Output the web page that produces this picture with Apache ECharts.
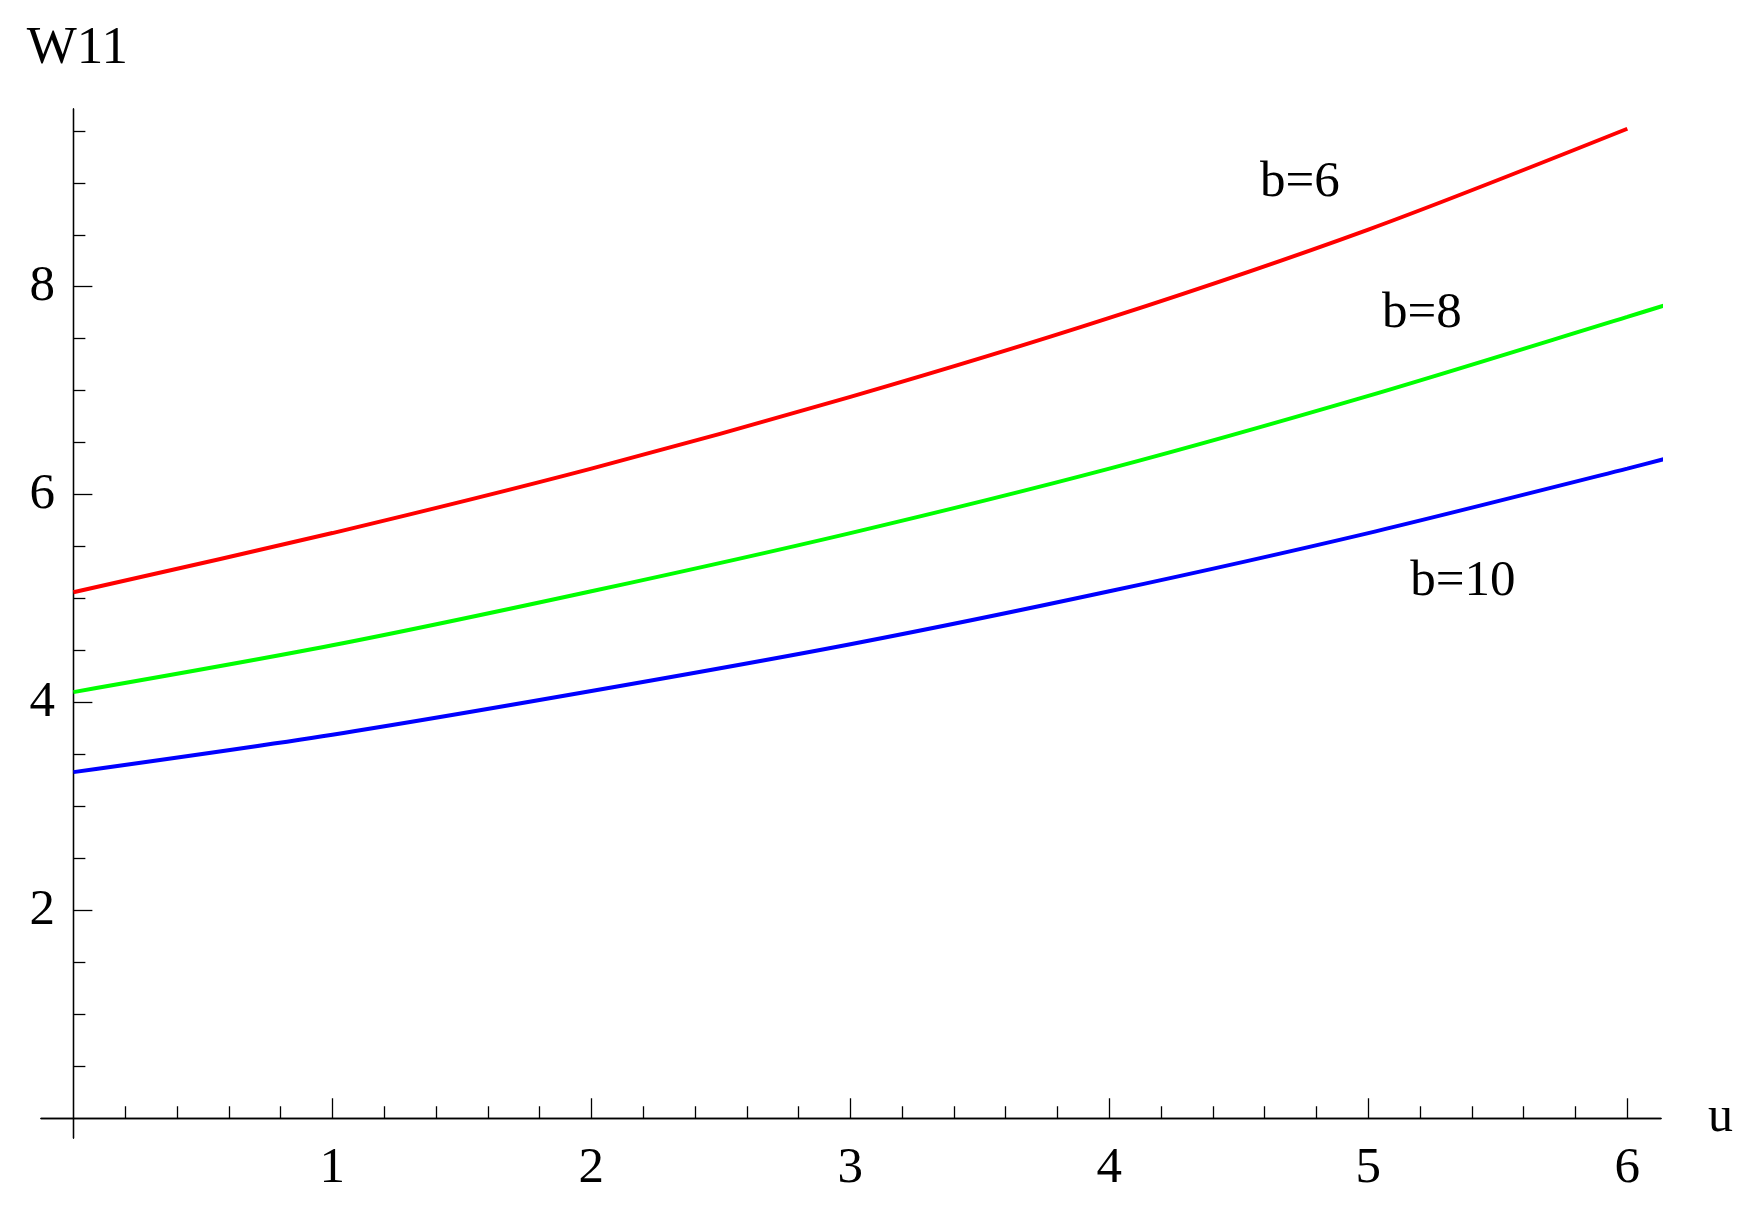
<!DOCTYPE html>
<html>
<head>
<meta charset="utf-8">
<script src="https://cdn.jsdelivr.net/npm/echarts@6/dist/echarts.min.js"></script>
<style>
html,body{margin:0;padding:0;background:#fff;}
#chart{width:1746px;height:1208px;}
</style>
</head>
<body>
<div id="chart"></div>
<script>
// ---- data ----
var uRed   = [0, 1, 2, 3, 4, 5, 6];
var wRed   = [5.06, 5.63, 6.25, 6.94, 7.70, 8.55, 9.52];
var uGreen = [0, 1, 2, 3, 4, 5, 6, 6.155];
var wGreen = [4.10, 4.55, 5.07, 5.63, 6.25, 6.95, 7.71, 7.83];
var uBlue  = [0, 1, 2, 3, 4, 5, 6, 6.155];
var wBlue  = [3.33, 3.69, 4.11, 4.56, 5.07, 5.63, 6.25, 6.35];
var seriesNames = ['b=6', 'b=8', 'b=10'];

// tick labels / tick positions
var xMajorTicks = [1, 2, 3, 4, 5, 6];
var xMinorTicks = [0.2, 0.4, 0.6, 0.8, 1.2, 1.4, 1.6, 1.8, 2.2, 2.4, 2.6, 2.8,
                   3.2, 3.4, 3.6, 3.8, 4.2, 4.4, 4.6, 4.8, 5.2, 5.4, 5.6, 5.8];
var yMajorTicks = [2, 4, 6, 8];
var yMinorTicks = [0.5, 1, 1.5, 2.5, 3, 3.5, 4.5, 5, 5.5, 6.5, 7, 7.5, 8.5, 9, 9.5];

function pairs(xs, ys) { return xs.map(function (x, i) { return [x, ys[i]]; }); }

var FONT = 'Liberation Serif';
var X_MIN = -0.125, X_MAX = 6.13, Y_MIN = -0.19, Y_MAX = 9.71;

var chart = echarts.init(document.getElementById('chart'), null, {renderer: 'canvas'});

function lineSeries(name, xs, ys, color, labelCoord) {
  return {
    name: name,
    type: 'line',
    xAxisIndex: 0,
    yAxisIndex: 0,
    data: pairs(xs, ys),
    smooth: 0.3,
    showSymbol: false,
    symbol: 'none',
    clip: false,
    lineStyle: {color: color, width: 4},
    markPoint: {
      symbol: 'circle',
      symbolSize: 0,
      silent: true,
      label: {
        show: true,
        position: 'inside',
        formatter: name,
        color: '#000',
        fontFamily: FONT,
        fontSize: 51
      },
      data: [{coord: labelCoord}]
    }
  };
}

var axisLineStyle = {color: '#000', width: 1.3};

var option = {
  backgroundColor: '#fff',
  animation: false,
  grid: {left: 41, right: 85, top: 109, bottom: 70, containLabel: false, outerBoundsMode: 'none'},
  xAxis: [
    {
      type: 'value', min: X_MIN, max: X_MAX, position: 'bottom',
      name: 'u', nameLocation: 'end', nameGap: 47,
      nameTextStyle: {fontFamily: FONT, fontSize: 50, color: '#000', verticalAlign: 'middle', padding: [11, 0, 0, 0]},
      axisLine: {show: true, onZero: true, onZeroAxisIndex: 0, lineStyle: axisLineStyle},
      axisTick: {show: true, inside: true, length: 20, customValues: xMajorTicks, lineStyle: axisLineStyle},
      axisLabel: {show: true, customValues: xMajorTicks, margin: 5, fontFamily: FONT, fontSize: 51, color: '#000'},
      splitLine: {show: false}
    },
    {
      type: 'value', min: X_MIN, max: X_MAX, position: 'bottom',
      axisLine: {show: true, onZero: true, onZeroAxisIndex: 0, lineStyle: axisLineStyle},
      axisTick: {show: true, inside: true, length: 12, customValues: xMinorTicks, lineStyle: axisLineStyle},
      axisLabel: {show: false},
      splitLine: {show: false}
    }
  ],
  yAxis: [
    {
      type: 'value', min: Y_MIN, max: Y_MAX, position: 'left',
      name: 'W11', nameLocation: 'end', nameGap: 33,
      nameTextStyle: {fontFamily: FONT, fontSize: 53, color: '#000', padding: [0, 0, 0, 8]},
      axisLine: {show: true, onZero: true, onZeroAxisIndex: 0, lineStyle: axisLineStyle},
      axisTick: {show: true, inside: true, length: 19, customValues: yMajorTicks, lineStyle: axisLineStyle},
      axisLabel: {show: true, customValues: yMajorTicks, margin: -14, fontFamily: FONT, fontSize: 51, color: '#000'},
      splitLine: {show: false}
    },
    {
      type: 'value', min: Y_MIN, max: Y_MAX, position: 'left',
      axisLine: {show: true, onZero: true, onZeroAxisIndex: 0, lineStyle: axisLineStyle},
      axisTick: {show: true, inside: true, length: 12, customValues: yMinorTicks, lineStyle: axisLineStyle},
      axisLabel: {show: false},
      splitLine: {show: false}
    }
  ],
  series: [
    lineSeries(seriesNames[0], uRed, wRed, '#ff0000', [4.736, 9.0]),
    lineSeries(seriesNames[1], uGreen, wGreen, '#00ff00', [5.207, 7.74]),
    lineSeries(seriesNames[2], uBlue, wBlue, '#0000ff', [5.365, 5.16])
  ]
};

chart.setOption(option);
</script>
</body>
</html>
